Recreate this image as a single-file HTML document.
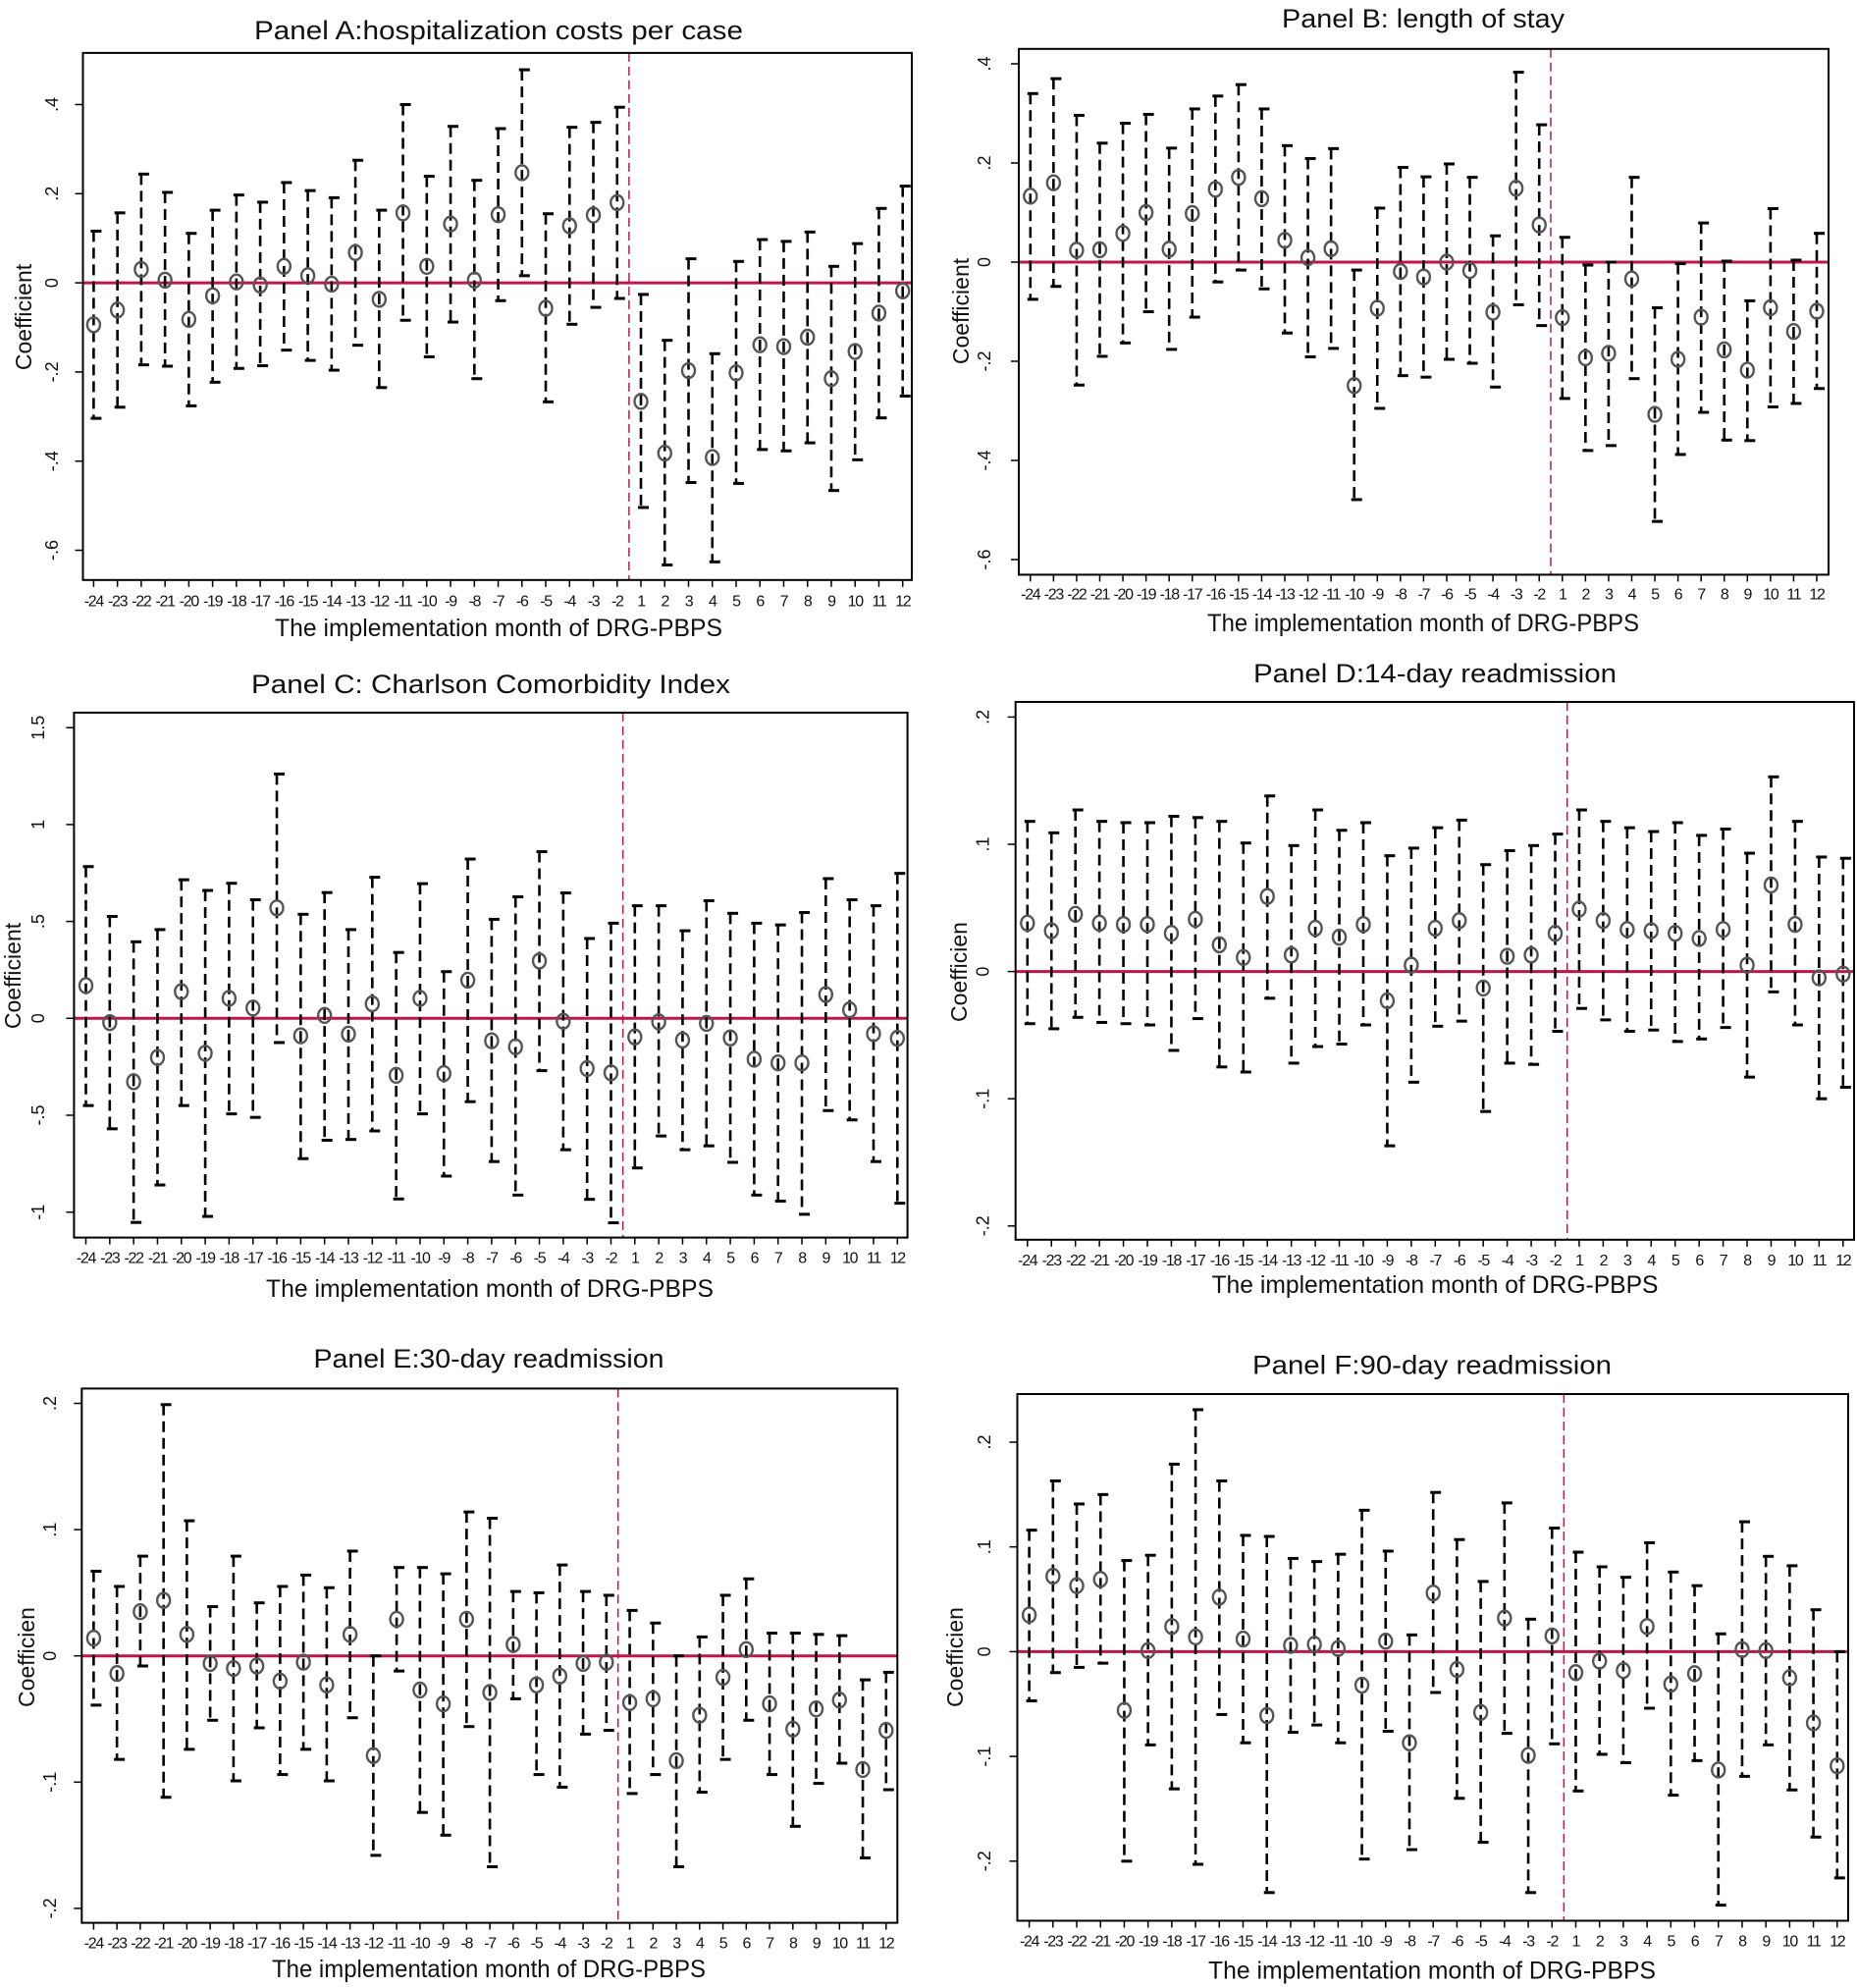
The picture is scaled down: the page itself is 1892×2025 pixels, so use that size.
<!DOCTYPE html>
<html><head><meta charset="utf-8"><style>
html,body{margin:0;padding:0;background:#fff;}
svg{display:block;font-family:"Liberation Sans",sans-serif;}
</style></head><body>
<svg id="chart" width="1892" height="2025" viewBox="0 0 1892 2025" xmlns="http://www.w3.org/2000/svg"></svg>
<script>
const months = ["-24","-23","-22","-21","-20","-19","-18","-17","-16","-15","-14","-13","-12","-11","-10","-9","-8","-7","-6","-5","-4","-3","-2","1","2","3","4","5","6","7","8","9","10","11","12"];

const coefA = [-0.094,-0.061,0.030,0.006,-0.082,-0.029,0.002,-0.005,0.037,0.016,-0.003,0.068,-0.037,0.157,0.037,0.132,0.006,0.153,0.247,-0.057,0.128,0.152,0.180,-0.266,-0.382,-0.197,-0.392,-0.202,-0.139,-0.143,-0.122,-0.215,-0.154,-0.068,-0.018];
const hiA = [0.116,0.157,0.244,0.203,0.111,0.163,0.197,0.181,0.225,0.207,0.191,0.275,0.163,0.400,0.239,0.351,0.230,0.346,0.478,0.155,0.349,0.360,0.394,-0.026,-0.129,0.054,-0.159,0.048,0.097,0.093,0.114,0.037,0.088,0.167,0.217];
const loA = [-0.304,-0.279,-0.184,-0.187,-0.276,-0.223,-0.192,-0.186,-0.151,-0.174,-0.196,-0.140,-0.235,-0.084,-0.166,-0.088,-0.215,-0.040,0.016,-0.267,-0.093,-0.055,-0.035,-0.504,-0.633,-0.448,-0.626,-0.450,-0.374,-0.377,-0.359,-0.466,-0.397,-0.303,-0.254];

const coefB = [0.133,0.160,0.024,0.025,0.058,0.100,0.026,0.098,0.147,0.171,0.128,0.044,0.009,0.027,-0.249,-0.093,-0.019,-0.030,0.000,-0.017,-0.101,0.149,0.075,-0.112,-0.193,-0.184,-0.034,-0.307,-0.196,-0.111,-0.177,-0.218,-0.092,-0.140,-0.099];
const hiB = [0.340,0.370,0.296,0.240,0.280,0.298,0.230,0.309,0.335,0.358,0.309,0.235,0.209,0.229,-0.016,0.109,0.191,0.172,0.198,0.171,0.053,0.383,0.277,0.050,-0.006,0.000,0.171,-0.092,-0.003,0.079,0.002,-0.078,0.108,0.004,0.058];
const loB = [-0.075,-0.049,-0.248,-0.190,-0.163,-0.100,-0.176,-0.111,-0.040,-0.016,-0.054,-0.143,-0.191,-0.174,-0.479,-0.295,-0.229,-0.232,-0.196,-0.204,-0.252,-0.086,-0.128,-0.275,-0.380,-0.370,-0.235,-0.523,-0.388,-0.303,-0.359,-0.360,-0.292,-0.285,-0.255];

const coefC = [0.169,-0.022,-0.327,-0.202,0.138,-0.180,0.103,0.053,0.570,-0.090,0.015,-0.081,0.075,-0.294,0.103,-0.285,0.197,-0.116,-0.147,0.296,-0.015,-0.259,-0.281,-0.096,-0.018,-0.112,-0.026,-0.101,-0.211,-0.230,-0.230,0.123,0.044,-0.079,-0.103];
const hiC = [0.783,0.526,0.395,0.458,0.715,0.660,0.697,0.612,1.261,0.537,0.649,0.458,0.728,0.340,0.695,0.241,0.822,0.511,0.627,0.860,0.647,0.412,0.491,0.581,0.581,0.452,0.607,0.542,0.491,0.482,0.546,0.721,0.612,0.581,0.748];
const loC = [-0.450,-0.570,-1.053,-0.860,-0.450,-1.022,-0.493,-0.511,-0.125,-0.724,-0.629,-0.625,-0.581,-0.932,-0.493,-0.814,-0.430,-0.739,-0.912,-0.270,-0.678,-0.934,-1.055,-0.772,-0.607,-0.678,-0.658,-0.743,-0.912,-0.943,-1.011,-0.476,-0.524,-0.739,-0.954];

const coefD = [0.038,0.032,0.045,0.038,0.037,0.037,0.030,0.041,0.021,0.011,0.059,0.013,0.034,0.027,0.037,-0.023,0.005,0.034,0.040,-0.013,0.012,0.013,0.030,0.049,0.040,0.033,0.032,0.030,0.026,0.033,0.005,0.068,0.037,-0.005,-0.002];
const hiD = [0.118,0.109,0.127,0.118,0.117,0.117,0.122,0.121,0.118,0.101,0.138,0.099,0.127,0.111,0.117,0.091,0.097,0.113,0.119,0.084,0.095,0.099,0.108,0.127,0.118,0.113,0.110,0.117,0.107,0.112,0.093,0.153,0.118,0.090,0.089];
const loD = [-0.041,-0.045,-0.036,-0.040,-0.041,-0.042,-0.062,-0.037,-0.075,-0.079,-0.021,-0.072,-0.059,-0.057,-0.042,-0.137,-0.087,-0.043,-0.039,-0.110,-0.072,-0.073,-0.047,-0.029,-0.038,-0.047,-0.046,-0.055,-0.053,-0.044,-0.083,-0.016,-0.042,-0.100,-0.091];

const coefE = [0.014,-0.014,0.035,0.044,0.017,-0.006,-0.010,-0.008,-0.020,-0.005,-0.023,0.017,-0.079,0.029,-0.027,-0.038,0.029,-0.029,0.009,-0.023,-0.016,-0.006,-0.005,-0.037,-0.034,-0.083,-0.047,-0.017,0.005,-0.038,-0.058,-0.042,-0.035,-0.090,-0.059];
const hiE = [0.067,0.055,0.079,0.199,0.107,0.039,0.079,0.042,0.055,0.064,0.054,0.083,0.000,0.070,0.070,0.065,0.114,0.109,0.051,0.050,0.072,0.051,0.048,0.036,0.026,0.000,0.015,0.048,0.061,0.018,0.018,0.017,0.016,-0.019,-0.013];
const loE = [-0.039,-0.082,-0.008,-0.112,-0.074,-0.051,-0.099,-0.057,-0.094,-0.074,-0.099,-0.049,-0.158,-0.012,-0.124,-0.142,-0.056,-0.167,-0.034,-0.094,-0.104,-0.062,-0.059,-0.109,-0.094,-0.167,-0.108,-0.082,-0.051,-0.094,-0.135,-0.101,-0.085,-0.160,-0.106];

const coefF = [0.035,0.072,0.063,0.069,-0.056,0.001,0.024,0.014,0.052,0.012,-0.061,0.006,0.007,0.003,-0.032,0.010,-0.087,0.056,-0.017,-0.058,0.032,-0.099,0.015,-0.020,-0.009,-0.018,0.024,-0.031,-0.021,-0.113,0.002,0.001,-0.025,-0.068,-0.109];
const hiF = [0.116,0.163,0.141,0.150,0.087,0.092,0.179,0.231,0.163,0.111,0.110,0.089,0.086,0.093,0.135,0.096,0.016,0.152,0.107,0.067,0.142,0.031,0.118,0.095,0.081,0.071,0.104,0.076,0.063,0.017,0.124,0.091,0.082,0.040,0.000];
const loF = [-0.047,-0.020,-0.015,-0.011,-0.200,-0.089,-0.131,-0.203,-0.060,-0.087,-0.230,-0.077,-0.070,-0.087,-0.198,-0.076,-0.189,-0.039,-0.140,-0.182,-0.078,-0.230,-0.088,-0.133,-0.098,-0.106,-0.054,-0.137,-0.104,-0.242,-0.119,-0.089,-0.132,-0.177,-0.216];

const ticksA = [0.4,0.2,0,-0.2,-0.4,-0.6];
const tickLabelsA = [".4",".2","0","-.2","-.4","-.6"];
const ticksC = [1.5,1,0.5,0,-0.5,-1];
const tickLabelsC = ["1.5","1",".5","0","-.5","-1"];
const ticksD = [0.2,0.1,0,-0.1,-0.2];
const tickLabelsD = [".2",".1","0","-.1","-.2"];

const svg = document.getElementById('chart');
const NS = 'http://www.w3.org/2000/svg';
function mk(tag, attrs, parent) {
  const e = document.createElementNS(NS, tag);
  for (const k in attrs) e.setAttribute(k, attrs[k]);
  (parent || svg).appendChild(e);
  return e;
}

const panels = [
  {id:'a', title:'Panel A:hospitalization costs per case', tw:498, tx:508, ty:31, box:[84.5,53.9,929,590.8], x0:95.4, x1:919.7, zero:288.1, ppu:454, coef:coefA, hi:hiA, lo:loA, ticks:ticksA, tl:tickLabelsA, ylx:53, ylab:'Coefficient', labx:24, laby:323, xly:613, xtx:508, xty:640, xtw:456},
  {id:'b', title:'Panel B: length of stay', tw:288, tx:1450, ty:19, box:[1038,49.8,1863,585.4], x0:1049.8, x1:1851, zero:267, ppu:505, coef:coefB, hi:hiB, lo:loB, ticks:ticksA, tl:tickLabelsA, ylx:1003, ylab:'Coefficient', labx:979, laby:317, xly:606, xtx:1450, xty:635, xtw:440},
  {id:'c', title:'Panel C: Charlson Comorbidity Index', tw:488, tx:500, ty:697, box:[75.4,725.9,924.6,1260.6], x0:87.5, x1:914.3, zero:1037.3, ppu:197.4, coef:coefC, hi:hiC, lo:loC, ticks:ticksC, tl:tickLabelsC, ylx:39, ylab:'Coefficient', labx:13, laby:994, xly:1282, xtx:499, xty:1313, xtw:456},
  {id:'d', title:'Panel D:14-day readmission', tw:370, tx:1462, ty:686, box:[1034.7,715,1889,1262.8], x0:1046.8, x1:1877.8, zero:989.6, ppu:1296, coef:coefD, hi:hiD, lo:loD, ticks:ticksD, tl:tickLabelsD, ylx:1001.5, ylab:'Coefficien', labx:977, laby:990, xly:1284.5, xtx:1462, xty:1309, xtw:455},
  {id:'e', title:'Panel E:30-day readmission', tw:357, tx:498, ty:1384, box:[83.3,1414.4,914.3,1958.6], x0:95.4, x1:902.8, zero:1686.7, ppu:1286, coef:coefE, hi:hiE, lo:loE, ticks:ticksD, tl:tickLabelsD, ylx:51, ylab:'Coefficien', labx:27, laby:1688, xly:1980, xtx:498, xty:2006, xtw:442},
  {id:'f', title:'Panel F:90-day readmission', tw:366, tx:1459, ty:1390.5, box:[1036.5,1420,1883,1956.5], x0:1048.6, x1:1871.8, zero:1682.4, ppu:1067, coef:coefF, hi:hiF, lo:loF, ticks:ticksD, tl:tickLabelsD, ylx:1003, ylab:'Coefficien', labx:973, laby:1688, xly:1978, xtx:1459, xty:2007.6, xtw:456}
];

panels.forEach(p => {
  const g = mk('g', {});
  
  
  const n = months.length;
  const xs = i => p.x0 + i * (p.x1 - p.x0) / (n - 1);
  const ys = v => p.zero - v * p.ppu;
  const [bl, bt, br, bb] = p.box;

  const t = mk('text', {x:p.tx, y:p.ty, 'text-anchor':'middle', 'dominant-baseline':'central', 'font-size':27, textLength:p.tw, lengthAdjust:'spacingAndGlyphs', fill:'#111'}, g);
  t.textContent = p.title;
  
  

  const zl = mk('line', {x1:bl, x2:br, y1:ys(0), y2:ys(0), stroke:'#c0144c', 'stroke-width':3}, g);
  
  

  const vx = (xs(22) + xs(23)) / 2;
  const vl = mk('line', {x1:vx, x2:vx, y1:bt, y2:bb, stroke:'#c0144c', 'stroke-width':1.5, 'stroke-dasharray':'9,5'}, g);
  
  

  for (let i = 0; i < n; i++) {
    const x = xs(i);
    const bar = mk('line', {x1:x, x2:x, y1:ys(p.hi[i]), y2:ys(p.lo[i]), stroke:'#000', 'stroke-width':2.6, 'stroke-dasharray':'11,6'}, g);
    
    
    [p.hi[i], p.lo[i]].forEach(v => {
      const cap = mk('line', {x1:x - 3, x2:x + 8, y1:ys(v), y2:ys(v), stroke:'#000', 'stroke-width':3}, g);
      
      
    });
    const c = mk('ellipse', {cx:x, cy:ys(p.coef[i]), rx:6.5, ry:7.5, fill:'none', stroke:'#555', 'stroke-width':2.4}, g);
    
    

    mk('line', {x1:x, x2:x, y1:bb, y2:bb + 7, stroke:'#000', 'stroke-width':1.5}, g);
    const xl = mk('text', {x:x, y:p.xly, 'text-anchor':'middle', 'dominant-baseline':'central', 'font-size':16, fill:'#111', 'letter-spacing':'-1.3'}, g);
    xl.textContent = months[i];
    
    
  }

  p.ticks.forEach((v, k) => {
    const y = ys(v);
    mk('line', {x1:bl - 8, x2:bl, y1:y, y2:y, stroke:'#000', 'stroke-width':1.5}, g);
    const yl = mk('text', {x:0, y:0, transform:`translate(${p.ylx},${y}) rotate(-90)`, 'text-anchor':'middle', 'dominant-baseline':'central', 'font-size':18, fill:'#111'}, g);
    yl.textContent = p.tl[k];
    
    
  });

  const fr = mk('rect', {x:bl, y:bt, width:br - bl, height:bb - bt, fill:'none', stroke:'#000', 'stroke-width':2}, g);
  
  

  const yt = mk('text', {x:0, y:0, transform:`translate(${p.labx},${p.laby}) rotate(-90)`, 'text-anchor':'middle', 'dominant-baseline':'central', 'font-size':23, fill:'#111'}, g);
  yt.textContent = p.ylab;
  
  

  const xt = mk('text', {x:p.xtx, y:p.xty, 'text-anchor':'middle', 'dominant-baseline':'central', 'font-size':25, textLength:p.xtw, lengthAdjust:'spacingAndGlyphs', fill:'#111'}, g);
  xt.textContent = 'The implementation month of DRG-PBPS';
  
  
});
</script>
</body></html>
